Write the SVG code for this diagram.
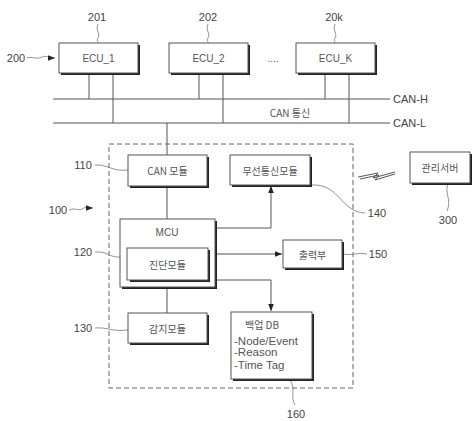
<svg xmlns="http://www.w3.org/2000/svg" width="472" height="421" viewBox="0 0 472 421">
<defs>
<style>
.box{fill:#fff;stroke:#555;stroke-width:1}
.sh{fill:#222}
.ln{fill:none;stroke:#555;stroke-width:1}
.ld{fill:none;stroke:#777;stroke-width:0.8}
.t{font-family:"Liberation Sans","Noto Sans CJK KR",sans-serif;font-size:10px;fill:#555}
.k{font-family:"Noto Sans CJK KR","Liberation Sans",sans-serif;font-size:10px;fill:#555}
.d{font-family:"Liberation Sans",sans-serif;font-size:11.5px;fill:#555}
.lb{font-family:"Liberation Sans",sans-serif;font-size:11px;fill:#444}
.m{text-anchor:middle;dominant-baseline:central}
</style>
<marker id="ah" viewBox="0 0 10 10" refX="10" refY="5" markerWidth="7" markerHeight="7" orient="auto-start-reverse" markerUnits="userSpaceOnUse">
<path d="M0,1 L10,5 L0,9 z" fill="#222"/>
</marker>
</defs>
<rect width="472" height="421" fill="#fff"/>

<g id="connectors">
<line class="ln" x1="53" y1="99" x2="390" y2="99"/>
<line class="ln" x1="53" y1="123" x2="390" y2="123"/>
<line class="ln" x1="89" y1="73" x2="89" y2="99"/>
<line class="ln" x1="113" y1="73" x2="113" y2="123"/>
<line class="ln" x1="199" y1="73" x2="199" y2="99"/>
<line class="ln" x1="223" y1="73" x2="223" y2="123"/>
<line class="ln" x1="325" y1="73" x2="325" y2="99"/>
<line class="ln" x1="349" y1="73" x2="349" y2="123"/>
<line class="ln" x1="167" y1="123" x2="167" y2="155"/>
<line class="ln" x1="167" y1="186" x2="167" y2="219"/>
<line class="ln" x1="167" y1="287" x2="167" y2="313"/>
<polyline class="ln" points="215,228 271,228 271,186" marker-end="url(#ah)"/>
<line class="ln" x1="215" y1="254" x2="282" y2="254" marker-end="url(#ah)"/>
<polyline class="ln" points="215,280 271,280 271,311" marker-end="url(#ah)"/>
<rect x="109" y="144" width="244" height="244" fill="none" stroke="#666" stroke-width="1" stroke-dasharray="5,3"/>
<path class="ln" d="M358,177 L378,173 L373,178 L395,172 M360,179 L379,175 L375,180 L395,174"/>
</g>

<g id="labels">
<text class="lb m" x="97" y="17">201</text>
<path class="ld" d="M98,24 C95,30 101,34 98,38 C96,41 99,42 98,43"/>
<text class="lb m" x="208" y="17">202</text>
<path class="ld" d="M208,24 C205,30 211,34 208,38 C206,41 209,42 208,43"/>
<text class="lb m" x="334" y="17">20k</text>
<path class="ld" d="M335,24 C332,30 338,34 335,38 C333,41 336,42 335,43"/>
<text class="lb m" x="16" y="58">200</text>
<path class="ld" d="M27,58 C33,56 36,60 42,57 C46,55 49,58 55,58" marker-end="url(#ah)"/>
<text class="lb m" x="83" y="165">110</text>
<path class="ld" d="M95,165 C108,164 112,172 128,170"/>
<text class="lb m" x="58" y="210">100</text>
<path class="ld" d="M69,210 C75,207 78,212 84,208 C87,206 89,208 93,208" marker-end="url(#ah)"/>
<text class="lb m" x="83" y="252">120</text>
<path class="ld" d="M95,252 C108,251 110,258 120,257"/>
<text class="lb m" x="83" y="328">130</text>
<path class="ld" d="M95,328 C108,327 112,332 128,330"/>
<text class="lb m" x="377" y="213">140</text>
<path class="ld" d="M311,185 C340,183 340,212 365,213"/>
<text class="lb m" x="378" y="254">150</text>
<path class="ld" d="M343,254 C352,256 358,252 367,254"/>
<text class="lb m" x="448" y="220">300</text>
<path class="ld" d="M448,184 C444,192 452,200 447,211"/>
<text class="lb m" x="296" y="414">160</text>
<path class="ld" d="M290,380 C296,388 290,398 295,405"/>
<text class="t m" x="273" y="58">....</text>
<text class="k m" x="290" y="112">CAN 통신</text>
<text class="lb" x="393" y="103">CAN-H</text>
<text class="lb" x="393" y="127">CAN-L</text>
</g>

<g id="ecu1"><rect class="sh" x="61" y="45" width="79" height="30"/><rect class="box" x="59" y="43" width="79" height="30"/><text class="t m" x="98.5" y="58">ECU_1</text></g>
<g id="ecu2"><rect class="sh" x="171" y="45" width="79" height="30"/><rect class="box" x="169" y="43" width="79" height="30"/><text class="t m" x="208.5" y="58">ECU_2</text></g>
<g id="ecuk"><rect class="sh" x="298" y="45" width="79" height="30"/><rect class="box" x="296" y="43" width="79" height="30"/><text class="t m" x="335.5" y="58">ECU_K</text></g>

<g id="can-module"><rect class="sh" x="130" y="157" width="79" height="31"/><rect class="box" x="128" y="155" width="79" height="31"/><text class="k m" x="167.5" y="170.5">CAN 모듈</text></g>
<g id="wireless"><rect class="sh" x="232" y="157" width="80" height="30"/><rect class="box" x="230" y="155" width="80" height="30"/><text class="k m" x="270" y="170">무선통신모듈</text></g>
<g id="server"><rect class="sh" x="412" y="154" width="60" height="31"/><rect class="box" x="410" y="152" width="60" height="31"/><text class="k m" x="440" y="167.5">관리서버</text></g>
<g id="mcu"><rect class="sh" x="122" y="221" width="95" height="68"/><rect class="box" x="120" y="219" width="95" height="68"/><text class="t m" x="167" y="232">MCU</text></g>
<g id="diag"><rect class="sh" x="130" y="250" width="80" height="32"/><rect class="box" x="127" y="248" width="81" height="32"/><text class="k m" x="167.5" y="264">진단모듈</text></g>
<g id="output"><rect class="sh" x="285" y="242" width="59" height="28"/><rect class="box" x="283" y="240" width="59" height="28"/><text class="k m" x="312.5" y="254">출력부</text></g>
<g id="sensor"><rect class="sh" x="130" y="315" width="79" height="30"/><rect class="box" x="128" y="313" width="79" height="30"/><text class="k m" x="167.5" y="328">감지모듈</text></g>
<g id="backup-db"><rect class="sh" x="233" y="314" width="81" height="67"/><rect class="box" x="231" y="312" width="81" height="67"/>
<text class="k m" x="262" y="324">백업 DB</text>
<text class="d" x="234" y="345">-Node/Event</text>
<text class="d" x="234" y="356">-Reason</text>
<text class="d" x="234" y="369">-Time Tag</text></g>
</svg>
